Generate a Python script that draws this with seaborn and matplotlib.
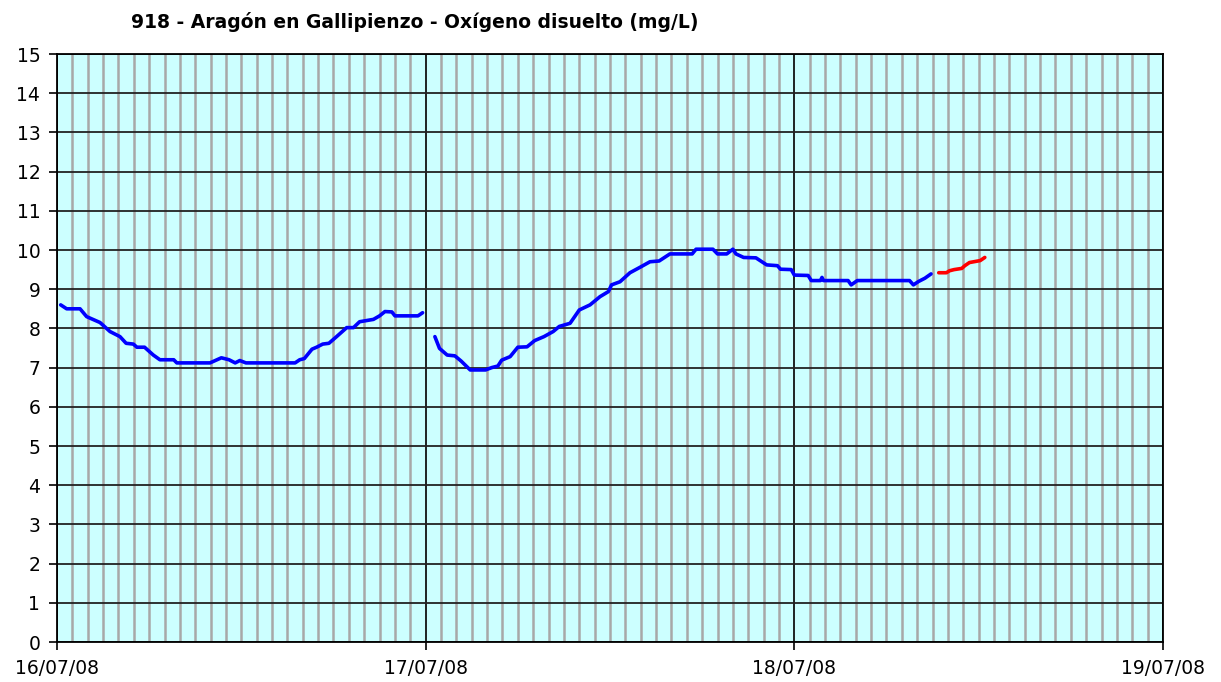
import numpy as np
import pandas as pd
from matplotlib import pyplot as plt
import matplotlib.dates as mdates
import seaborn as sns

# horas desde 16/07/08 00:00 y valores de oxigeno disuelto (mg/L)
seg1_hours = [0.24, 0.63, 1.5, 1.93, 2.8, 3.45, 4.1, 4.5, 4.97, 5.2, 5.7, 6.27, 6.7, 7.6, 7.8,
              9.96, 10.7, 11.2, 11.6, 11.9, 12.3, 15.5, 15.8, 16.1, 16.6, 16.9, 17.3, 17.7,
              18.2, 18.86, 19.3, 19.7, 20.6, 21.0, 21.35, 21.8, 22.0, 23.5, 23.8]
seg1_values = [8.6, 8.5, 8.5, 8.3, 8.15, 7.92, 7.79, 7.62, 7.6, 7.52, 7.52, 7.32, 7.2, 7.2, 7.12,
               7.12, 7.25, 7.2, 7.12, 7.18, 7.12, 7.12, 7.2, 7.23, 7.47, 7.52, 7.6, 7.62,
               7.79, 8.02, 8.02, 8.17, 8.23, 8.32, 8.43, 8.42, 8.32, 8.32, 8.4]

seg2_hours = [24.6, 24.9, 25.4, 25.9, 26.3, 26.9, 27.9, 28.3, 28.7, 28.95, 29.5, 30.0, 30.6,
              31.1, 31.7, 32.3, 32.7, 33.4, 34.0, 34.7, 35.35, 35.9, 36.1, 36.65, 37.3,
              37.96, 38.6, 39.2, 39.9, 41.35, 41.6, 42.7, 43.0, 43.6, 44.0, 44.2, 44.7,
              45.5, 46.2, 46.9, 47.1, 47.8, 48.0, 48.9, 49.1, 49.7, 49.8, 49.9, 51.5,
              51.7, 52.1, 55.5, 55.75, 56.1, 56.5, 56.9]
seg2_values = [7.79, 7.49, 7.32, 7.3, 7.17, 6.94, 6.94, 7.0, 7.04, 7.19, 7.28, 7.52, 7.53,
               7.69, 7.79, 7.92, 8.05, 8.13, 8.47, 8.6, 8.81, 8.94, 9.11, 9.19, 9.42,
               9.56, 9.7, 9.72, 9.9, 9.9, 10.02, 10.02, 9.9, 9.9, 10.02, 9.9, 9.81,
               9.8, 9.62, 9.6, 9.51, 9.5, 9.36, 9.35, 9.22, 9.22, 9.3, 9.22, 9.22,
               9.11, 9.22, 9.22, 9.11, 9.2, 9.28, 9.39]

red_hours = [57.4, 57.9, 58.1, 58.4, 58.9, 59.1, 59.4, 60.1, 60.4]
red_values = [9.42, 9.42, 9.47, 9.5, 9.53, 9.6, 9.68, 9.73, 9.81]

title = "918 - Aragón en Gallipienzo - Oxígeno disuelto (mg/L)"
start = pd.Timestamp("2008-07-16")
end = pd.Timestamp("2008-07-19")


def to_df(hours, values):
    return pd.DataFrame({"t": start + pd.to_timedelta(hours, unit="h"), "v": values})


sns.set_style("ticks")
plt.rcParams['font.family'] = ['DejaVu Sans']
plt.rcParams['text.color'] = 'black'

fig = plt.figure(figsize=(12.21, 6.82), dpi=100)
ax = fig.add_axes([57 / 1221, 1 - 642 / 682, (1163 - 57) / 1221, (642 - 54) / 682])
ax.set_facecolor("#CCFFFF")

sns.lineplot(data=to_df(seg1_hours, seg1_values), x="t", y="v", color="#0000FF", lw=2.6, ax=ax, zorder=5)
sns.lineplot(data=to_df(seg2_hours, seg2_values), x="t", y="v", color="#0000FF", lw=2.6, ax=ax, zorder=5)
sns.lineplot(data=to_df(red_hours, red_values), x="t", y="v", color="#FF0000", lw=2.6, ax=ax, zorder=5)

ax.set_xlim(start, end)
ax.set_ylim(0, 15)
ax.set_yticks(np.arange(0, 16, 1))
ax.xaxis.set_major_locator(mdates.DayLocator())
ax.xaxis.set_major_formatter(mdates.DateFormatter("%d/%m/%y"))
ax.xaxis.set_minor_locator(mdates.HourLocator())

ax.grid(which="minor", axis="x", color="#A8A8A8", lw=1.8, zorder=1)
ax.grid(which="major", axis="x", color="#111111", lw=1.3, zorder=2)
ax.grid(which="major", axis="y", color="#222222", lw=1.3, zorder=2)
ax.set_axisbelow(True)

ax.tick_params(axis="both", which="major", direction="out", length=6, width=1.2,
               colors="black", labelsize=13.5, pad=6)
ax.tick_params(axis="x", which="minor", length=0)
for s in ax.spines.values():
    s.set_color("black")
    s.set_linewidth(1.3)
ax.set_xlabel("")
ax.set_ylabel("")

fig.text(415 / 1221, 1 - 22 / 682, title, ha="center", va="center", fontsize=13.5,
         fontweight="bold", color="black")

plt.savefig("out.png", dpi=100)
